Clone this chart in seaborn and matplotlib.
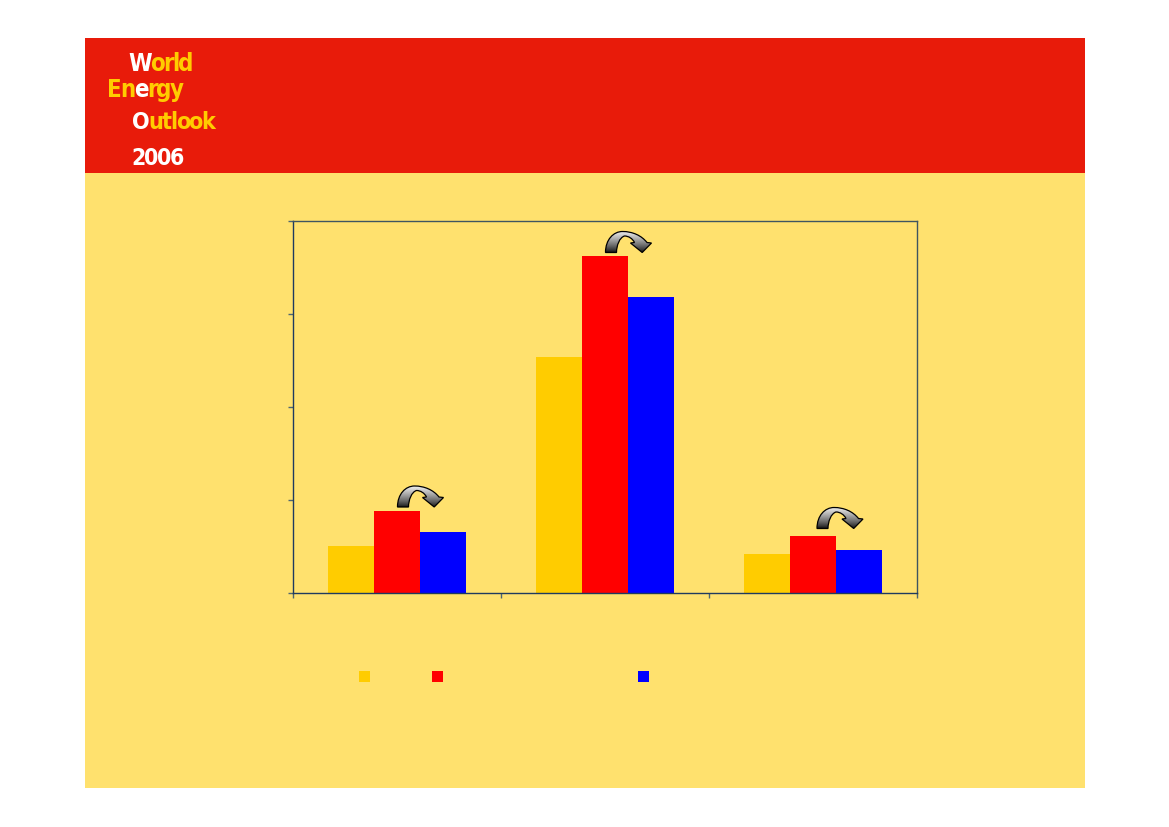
import numpy as np
import pandas as pd
import matplotlib
matplotlib.use("Agg")
import matplotlib.pyplot as plt
from matplotlib import font_manager as fm
from matplotlib.patches import Rectangle, PathPatch
from matplotlib.path import Path
import seaborn as sns

# Data (value axis has four unlabelled intervals)
categories = ["Group 1", "Group 2", "Group 3"]
series_names = ["Series 1", "Series 2", "Series 3"]
series_1 = [0.51, 2.54, 0.42]
series_2 = [0.885, 3.625, 0.615]
series_3 = [0.655, 3.185, 0.465]
series_colors = ["#FFCC00", "#FF0000", "#0000FF"]

PAGE = "#FFE16E"
HEADER = "#E81B0A"
GOLD = "#FFCC00"
WHITE = "#FFFFFF"
W, H = 1169, 827

sns.set_theme(style="white")
plt.rcParams["font.family"] = ["Roboto", "Liberation Sans", "DejaVu Sans"]

# Prefer a condensed bold face for the logo when one is installed
logo_font = None
for f in fm.fontManager.ttflist:
    low = f.fname.lower()
    if ("condensed" in low or "narrow" in low) and "bold" in low and "oblique" not in low and "italic" not in low:
        logo_font = fm.FontProperties(fname=f.fname)
        break
if logo_font is None:
    logo_font = fm.FontProperties(family="Roboto", weight="bold")

df = pd.DataFrame({
    "category": categories * 3,
    "series": np.repeat(series_names, 3),
    "value": series_1 + series_2 + series_3,
})

fig = plt.figure(figsize=(W / 100, H / 100), dpi=100, facecolor="white")

# Page panel and header band
ov = fig.add_axes([0, 0, 1, 1], zorder=0)
ov.set_xlim(0, W)
ov.set_ylim(H, 0)
ov.axis("off")
ov.add_patch(Rectangle((85, 38), 1000, 750, fc=PAGE, ec="none"))
ov.add_patch(Rectangle((85, 38), 1000, 134.5, fc=HEADER, ec="none"))

# Chart
ax = fig.add_axes([293 / W, 1 - 593 / H, 624 / W, 372 / H], zorder=1)
ax.patch.set_alpha(0)
sns.barplot(data=df, x="category", y="value", hue="series", order=categories,
            hue_order=series_names, palette=dict(zip(series_names, series_colors)),
            width=0.668, gap=0, saturation=1, legend=False, errorbar=None, ax=ax,
            linewidth=0)
ax.set_xlim(-0.5, 2.5)
ax.set_ylim(0, 4)
ax.set_xticks([-0.5, 0.5, 1.5, 2.5], labels=[])
ax.set_yticks([0, 1, 2, 3, 4], labels=[])
ax.set_xlabel("")
ax.set_ylabel("")
for side, col in {"left": "#1F3A5F", "bottom": "#1F3A5F", "top": "#3F5560", "right": "#3F5560"}.items():
    ax.spines[side].set_visible(True)
    ax.spines[side].set_color(col)
    ax.spines[side].set_linewidth(1.0)
ax.tick_params(axis="both", which="both", direction="out", length=3.6, width=1.0,
               color="#4F6670", left=True, bottom=True)

# Legend swatches (the reference shows no legend text)
for x0, col in zip([359, 432, 638], series_colors):
    ov.add_patch(Rectangle((x0, 671), 11, 11, fc=col, ec="none"))

# Curved arrows with a vertical grey gradient
top = fig.add_axes([0, 0, 1, 1], zorder=2)
top.set_xlim(0, W)
top.set_ylim(H, 0)
top.axis("off")
top.patch.set_alpha(0)
grad = (np.linspace(1, 0, 64) ** 0.75).reshape(-1, 1)

def arrow(x0, y0):
    verts = [(0, 0), (0, 13), (8, 21), (17, 21),
             (27, 21), (36, 17), (41.5, 10),
             (46, 9.5), (36.7, 0), (25, 9.5), (29, 10),
             (27, 14), (23, 16.5), (19, 16.5),
             (14, 15), (11, 7), (11, 0), (0, 0)]
    codes = [Path.MOVETO, Path.CURVE4, Path.CURVE4, Path.CURVE4,
             Path.CURVE4, Path.CURVE4, Path.CURVE4,
             Path.LINETO, Path.LINETO, Path.LINETO, Path.LINETO,
             Path.CURVE4, Path.CURVE4, Path.CURVE4,
             Path.CURVE4, Path.CURVE4, Path.CURVE4, Path.CLOSEPOLY]
    p = Path([(x0 + a, y0 - b) for a, b in verts], codes)
    patch = PathPatch(p, fc="none", ec="black", lw=0.9, zorder=4)
    top.add_patch(patch)
    im = top.imshow(grad, cmap="gray", vmin=0, vmax=1, aspect="auto",
                    extent=(x0 - 1, x0 + 48, y0 + 1, y0 - 23), zorder=3)
    im.set_clip_path(patch)

for x0, y0 in [(397.5, 507), (605.5, 252.5), (817, 528.5)]:
    arrow(x0, y0)
top.set_xlim(0, W)
top.set_ylim(H, 0)

# Logo: real text, one letter at a time, packed tightly
fig.canvas.draw()
renderer = fig.canvas.get_renderer()

def ink_width(ch, size):
    t = fig.text(0, 0, ch, fontproperties=logo_font, fontsize=size)
    w = t.get_window_extent(renderer).width
    t.remove()
    return w

def logo_line(parts, x_left, x_right, y_base, gap=-1.5):
    letters = [(ch, c) for s, c in parts for ch in s]
    room = x_right - x_left - gap * (len(letters) - 1)
    size = 20 * room / sum(ink_width(ch, 20) for ch, _ in letters)
    x = x_left
    for ch, c in letters:
        fig.text(x / W, 1 - y_base / H, ch, color=c, fontproperties=logo_font,
                 fontsize=size, ha="left", va="baseline", zorder=5)
        x += ink_width(ch, size) + gap

logo_line([("W", WHITE), ("orld", GOLD)], 128, 194, 71)
logo_line([("En", GOLD), ("e", WHITE), ("rgy", GOLD)], 107, 184, 97)
logo_line([("O", WHITE), ("utlook", GOLD)], 132, 216, 129)
logo_line([("2006", WHITE)], 131, 184, 165)

fig.savefig("out.png", dpi=100, facecolor="white")
